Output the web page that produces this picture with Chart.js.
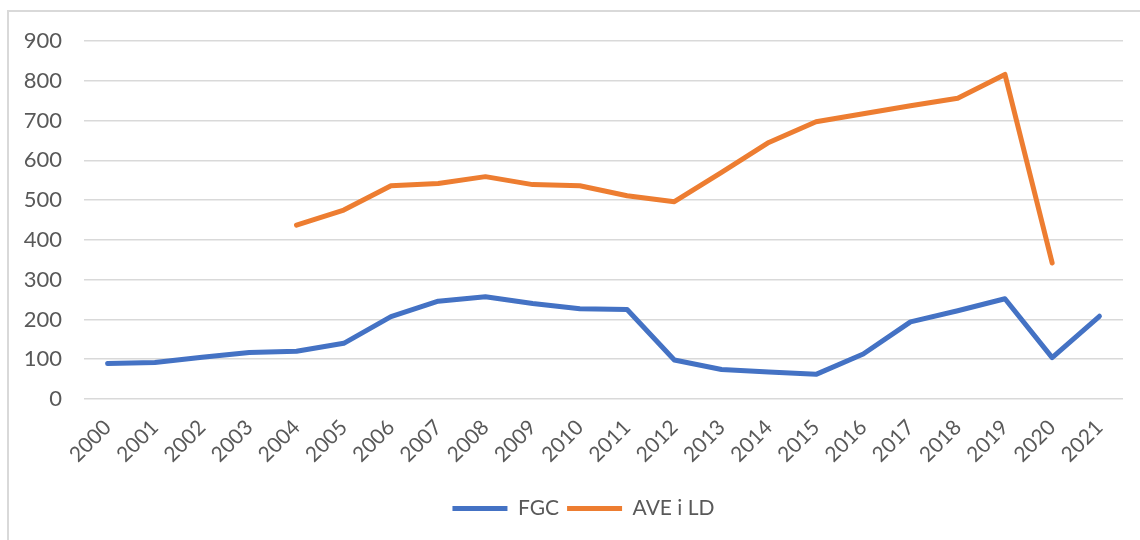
<!DOCTYPE html>
<html>
<head>
<meta charset="utf-8">
<script src="https://cdn.jsdelivr.net/npm/chart.js@4"></script>
<style>
  body { margin: 0; background: #fff; }
  #wrap { position: relative; width: 1140px; height: 540px; overflow: hidden; }
  #frame { position: absolute; left: 7px; top: 10px; width: 1200px; height: 600px; border: 2px solid #d9d9d9; box-sizing: border-box; }
  canvas { position: absolute; left: 0; top: 0; }
</style>
</head>
<body>
<div id="wrap">
  <div id="frame"></div>
  <canvas id="chart" width="1140" height="540"></canvas>
</div>
<script>
const years = ["2000","2001","2002","2003","2004","2005","2006","2007","2008","2009","2010",
  "2011","2012","2013","2014","2015","2016","2017","2018","2019","2020","2021"];
const fgc = [89, 92, 105, 117, 120, 140, 207, 246, 257, 240, 227, 225, 98, 74, 68, 62, 113, 194, 222, 252, 104, 208];
const aveLd = [null, null, null, null, 437, 475, 536, 542, 559, 539, 536, 511, 496, 570, 645, 697, 717, 737, 756, 816, 342, null];
const yTicks = { min: 0, max: 900, step: 100 };

const textColor = "#595959";
const fontFamily = "Lato, 'Open Sans', sans-serif";

// legend sits a bit right of the page centre in the original
const legendShift = {
  id: "legendShift",
  afterLayout(chart) {
    chart.legend.left += 22;
    chart.legend.right += 22;
  }
};

new Chart(document.getElementById("chart"), {
  type: "line",
  data: {
    labels: years,
    datasets: [
      {
        label: "FGC",
        data: fgc,
        borderColor: "#4472C4",
        backgroundColor: "#4472C4",
        borderWidth: 5,
        pointRadius: 0,
        pointStyle: "line",
        borderCapStyle: "round",
        borderJoinStyle: "round",
        tension: 0
      },
      {
        label: "AVE i LD",
        data: aveLd,
        borderColor: "#ED7D31",
        backgroundColor: "#ED7D31",
        borderWidth: 5,
        pointRadius: 0,
        pointStyle: "line",
        borderCapStyle: "round",
        borderJoinStyle: "round",
        spanGaps: false,
        tension: 0
      }
    ]
  },
  options: {
    responsive: false,
    animation: false,
    layout: { padding: { top: 41, left: 0, right: 17, bottom: 11 } },
    plugins: {
      tooltip: { enabled: false },
      legend: {
        position: "bottom",
        labels: {
          usePointStyle: true,
          pointStyle: "line",
          pointStyleWidth: 55,
          color: textColor,
          padding: 8,
          font: { family: fontFamily, size: 21 }
        }
      }
    },
    scales: {
      x: {
        offset: true,
        grid: { display: false },
        border: { display: false },
        afterFit: scale => { scale.height = 91; },
        ticks: {
          color: textColor,
          font: { family: fontFamily, size: 21 },
          maxRotation: 45,
          minRotation: 45,
          autoSkip: false,
          padding: 8
        }
      },
      y: {
        min: yTicks.min,
        max: yTicks.max,
        afterFit: scale => { scale.width = 84; },
        grid: { color: "#d9d9d9", lineWidth: 1.5, drawTicks: false },
        border: { display: false },
        ticks: {
          stepSize: yTicks.step,
          color: textColor,
          font: { family: fontFamily, size: 22 },
          padding: 22
        }
      }
    }
  },
  plugins: [legendShift]
});
</script>
</body>
</html>
